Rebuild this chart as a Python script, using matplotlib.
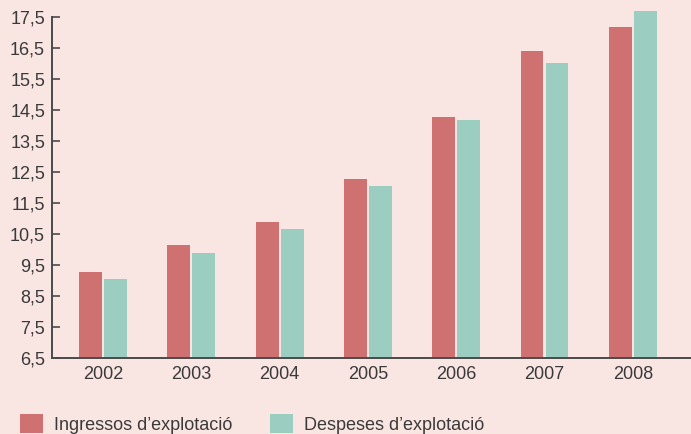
import matplotlib
matplotlib.use("Agg")
import matplotlib.pyplot as plt
import numpy as np

years = ["2002", "2003", "2004", "2005", "2006", "2007", "2008"]
ingressos = [9.27, 10.15, 10.89, 12.27, 14.27, 16.40, 17.18]
despeses = [9.05, 9.89, 10.66, 12.05, 14.18, 16.02, 17.69]
yticks = [6.5, 7.5, 8.5, 9.5, 10.5, 11.5, 12.5, 13.5, 14.5, 15.5, 16.5, 17.5]
labels = ["Ingressos d\u2019explotaci\u00f3", "Despeses d\u2019explotaci\u00f3"]

bg = "#f9e6e3"
red = "#cf7170"
teal = "#9bcdc1"
txt = "#3a3a3a"

plt.rcParams['font.family'] = ['Liberation Sans', 'DejaVu Sans']

fig = plt.figure(figsize=(6.91, 4.34), dpi=100, facecolor=bg)
ax = fig.add_axes([52/691, 1-358/434, 1-52/691, (358-17)/434])
ax.set_facecolor(bg)

x = np.arange(len(years))
w = 0.26
off = 0.1415
b1 = ax.bar(x - off, [v - 6.5 for v in ingressos], w, bottom=6.5, color=red,
            label=labels[0], clip_on=False)
b2 = ax.bar(x + off, [v - 6.5 for v in despeses], w, bottom=6.5, color=teal,
            label=labels[1], clip_on=False)

ax.set_xlim(-0.578, (691-103)/88.3)
ax.set_ylim(6.5, 17.5)
ax.set_yticks(yticks)
ax.set_yticklabels([f"{v:.1f}".replace(".", ",") for v in yticks])
ax.set_xticks(x)
ax.set_xticklabels(years)
ax.tick_params(axis='y', direction='in', length=6, width=1.2, color="#4a4a4a",
               labelsize=13, labelcolor=txt, pad=5)
ax.tick_params(axis='x', length=0, labelsize=13, labelcolor=txt, pad=6)
for s in ['top', 'right']:
    ax.spines[s].set_visible(False)
for s in ['left', 'bottom']:
    ax.spines[s].set_color("#4a4a4a")
    ax.spines[s].set_linewidth(1.4)
    ax.spines[s].set_zorder(5)

leg = fig.legend(handles=[b1, b2], labels=labels, loc='upper left',
                 bbox_to_anchor=(20/691, 1-414/434), ncol=2, frameon=False,
                 fontsize=13, handlelength=1.28, handleheight=1.28,
                 handletextpad=0.62, columnspacing=2.05, borderpad=0,
                 borderaxespad=0, labelcolor=txt)

fig.savefig("out.png", dpi=100, facecolor=bg)
